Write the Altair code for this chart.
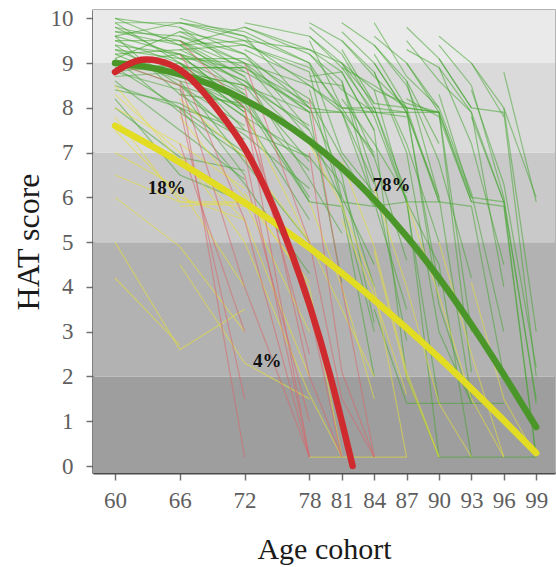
import altair as alt
import pandas as pd

# ---------------- data ----------------
# background bands on the HAT score scale
band_lo = [-0.156, 2, 5, 7, 9]
band_hi = [2, 5, 7, 9, 10.185]
band_color = ["#9e9e9e", "#b2b2b2", "#c9c9c9", "#dadada", "#eaeaea"]

# individual trajectories (age, HAT score)
green_traj = [
    [(60, 10.0), (66, 9.8), (72, 9.2)],
    [(60, 9.8), (66, 9.5), (72, 8.9)],
    [(60, 9.7), (66, 9.6), (72, 9.0)],
    [(60, 9.5), (66, 9.0), (72, 8.3)],
    [(60, 9.4), (66, 9.2), (72, 8.8)],
    [(60, 9.3), (66, 8.7), (72, 8.0)],
    [(60, 9.2), (66, 9.3), (72, 8.6)],
    [(60, 9.0), (66, 8.5), (72, 7.6)],
    [(60, 9.0), (66, 8.9), (72, 8.9)],
    [(60, 8.9), (66, 8.0), (72, 7.0)],
    [(60, 8.8), (66, 8.4), (72, 6.5)],
    [(60, 8.6), (66, 7.5), (72, 6.4)],
    [(60, 8.4), (66, 8.1), (72, 7.3)],
    [(60, 8.2), (66, 6.5), (72, 5.9)],
    [(60, 9.9), (66, 9.0), (72, 7.9)],
    [(60, 9.6), (66, 8.3), (72, 8.1)],
    [(60, 8.0), (66, 6.9), (72, 6.6)],
    [(60, 9.1), (66, 9.7), (72, 9.4)],
    [(60, 8.7), (66, 8.8), (72, 7.8)],
    [(60, 9.6), (66, 9.9), (72, 9.6)],
    [(60, 9.9), (66, 9.9), (72, 9.7)],
    [(60, 9.8), (66, 9.1), (72, 8.4)],
    [(60, 9.7), (66, 9.4), (72, 9.5)],
    [(60, 9.5), (66, 9.5), (72, 8.7)],
    [(60, 9.3), (66, 9.1), (72, 9.1)],
    [(60, 9.2), (66, 8.6), (72, 8.2)],
    [(60, 9.0), (66, 9.2), (72, 8.0)],
    [(60, 8.9), (66, 8.8), (72, 8.5)],
    [(60, 8.8), (66, 9.0), (72, 7.9)],
    [(60, 8.5), (66, 8.0), (72, 7.5)],
    [(60, 9.4), (66, 8.5), (72, 7.2)],
    [(60, 9.1), (66, 7.9), (72, 6.9)],
    [(60, 9.6), (66, 9.2), (72, 8.0)],
    [(60, 10.0), (66, 9.4), (72, 8.7)],
    [(66, 9.9), (72, 9.5), (78, 8.5)],
    [(66, 9.7), (72, 9.0), (78, 7.9)],
    [(66, 9.5), (72, 8.5), (78, 6.8)],
    [(66, 9.3), (72, 9.4), (78, 8.9)],
    [(66, 9.0), (72, 8.2), (78, 6.0)],
    [(66, 8.8), (72, 7.8), (78, 5.5)],
    [(66, 8.6), (72, 6.8), (78, 5.0)],
    [(66, 8.3), (72, 7.4), (78, 6.2)],
    [(66, 9.8), (72, 8.8), (78, 8.0)],
    [(66, 9.1), (72, 9.0), (78, 7.3)],
    [(66, 8.0), (72, 6.3), (78, 4.3)],
    [(66, 9.4), (72, 9.8), (78, 9.3)],
    [(66, 9.6), (72, 9.2), (78, 8.0)],
    [(66, 9.2), (72, 8.6), (78, 7.5)],
    [(66, 8.9), (72, 8.9), (78, 8.1)],
    [(66, 8.5), (72, 8.0), (78, 6.6)],
    [(66, 9.0), (72, 7.5), (78, 6.9)],
    [(66, 10.0), (72, 9.6), (78, 9.0)],
    [(66, 9.4), (72, 8.3), (78, 5.9)],
    [(66, 8.8), (72, 8.5), (78, 7.6)],
    [(72, 9.8), (78, 9.2), (81, 8.4), (84, 7.9)],
    [(72, 9.6), (78, 8.0), (81, 7.9), (84, 6.3)],
    [(72, 9.4), (78, 8.8), (81, 6.0), (84, 4.5)],
    [(72, 9.2), (78, 7.5), (81, 5.9), (84, 3.0)],
    [(72, 9.0), (78, 8.5), (81, 8.0), (84, 7.9)],
    [(72, 8.7), (78, 6.4), (81, 5.2)],
    [(72, 8.5), (78, 7.9), (81, 4.1)],
    [(72, 8.1), (78, 5.9), (81, 5.8), (84, 2.0)],
    [(72, 9.9), (78, 9.6), (81, 9.0), (84, 8.1)],
    [(72, 7.8), (78, 6.9), (81, 6.0)],
    [(72, 9.7), (78, 9.0), (81, 7.9), (84, 5.9)],
    [(72, 9.3), (78, 8.6), (81, 8.5), (84, 6.9)],
    [(72, 9.1), (78, 8.2), (81, 6.9), (84, 5.8)],
    [(72, 8.9), (78, 7.9), (81, 7.9), (84, 7.0)],
    [(72, 8.6), (78, 7.2), (81, 6.3), (84, 4.0)],
    [(72, 9.5), (78, 9.3), (81, 8.8), (84, 7.5)],
    [(78, 9.8), (81, 9.2), (84, 8.0), (87, 6.1)],
    [(78, 9.5), (81, 8.0), (84, 8.0), (87, 7.9), (90, 5.9)],
    [(78, 9.2), (81, 8.6), (84, 5.9), (87, 3.5)],
    [(78, 9.0), (81, 7.0), (84, 6.1)],
    [(78, 8.7), (81, 8.8), (84, 7.5), (87, 2.0)],
    [(78, 8.4), (81, 5.9), (84, 5.8), (87, 5.9), (90, 1.4)],
    [(78, 8.0), (81, 6.5), (84, 3.2)],
    [(78, 9.9), (81, 9.5), (84, 8.7), (87, 8.0), (90, 7.9)],
    [(78, 9.6), (81, 8.9), (84, 7.9), (87, 7.8)],
    [(78, 9.3), (81, 9.0), (84, 8.4), (87, 5.9)],
    [(78, 8.9), (81, 8.0), (84, 6.9), (87, 4.6)],
    [(78, 8.5), (81, 7.9), (84, 7.9), (87, 7.9), (90, 4.0)],
    [(81, 9.7), (84, 9.0), (87, 7.9), (90, 6.0)],
    [(81, 9.3), (84, 8.1), (87, 8.0), (90, 3.6), (93, 1.4)],
    [(81, 9.0), (84, 7.8), (87, 5.9), (90, 5.9)],
    [(81, 8.6), (84, 6.4), (87, 2.8)],
    [(81, 8.2), (84, 7.2), (87, 6.0), (90, 0.2)],
    [(81, 9.9), (84, 9.4), (87, 8.6), (90, 7.2)],
    [(81, 9.5), (84, 8.8), (87, 7.2), (90, 5.0)],
    [(81, 8.9), (84, 8.5), (87, 8.0), (90, 7.9), (93, 3.0)],
    [(84, 9.6), (87, 9.0), (90, 7.9), (93, 5.9)],
    [(84, 9.2), (87, 8.0), (90, 5.9), (93, 5.8), (96, 2.0)],
    [(84, 8.8), (87, 7.0), (90, 3.0), (93, 1.4)],
    [(84, 8.4), (87, 8.1), (90, 7.9), (93, 6.0)],
    [(84, 9.9), (87, 8.7), (90, 8.0)],
    [(84, 8.0), (87, 5.9), (90, 4.5), (93, 0.2)],
    [(84, 9.4), (87, 8.5), (90, 6.8), (93, 4.2)],
    [(84, 9.0), (87, 7.9), (90, 7.9), (93, 2.1)],
    [(87, 9.5), (90, 8.6), (93, 7.9), (96, 5.9)],
    [(87, 9.0), (90, 8.0), (93, 6.1), (96, 3.0)],
    [(87, 8.6), (90, 6.0), (93, 1.5)],
    [(87, 8.2), (90, 7.8), (93, 5.9), (96, 5.8), (99, 0.2)],
    [(87, 9.8), (90, 9.1), (93, 8.0)],
    [(87, 9.3), (90, 8.9), (93, 7.2), (96, 4.5)],
    [(90, 9.4), (93, 8.5), (96, 6.0), (99, 1.4)],
    [(90, 8.9), (93, 7.9), (96, 4.0)],
    [(90, 8.3), (93, 6.0), (96, 5.9), (99, 0.2)],
    [(90, 9.6), (93, 9.0), (96, 7.8)],
    [(90, 9.1), (93, 8.0), (96, 7.9), (99, 2.0)],
    [(93, 9.0), (96, 8.0), (99, 6.0)],
    [(93, 8.4), (96, 6.3), (99, 2.2)],
    [(93, 7.8), (96, 5.9), (99, 1.5)],
    [(96, 8.8), (99, 5.9)],
    [(96, 8.0), (99, 3.0)],
    [(84, 3.5), (87, 1.4), (90, 1.4), (93, 1.4), (96, 1.4)],
    [(87, 2.0), (90, 0.2), (93, 0.2), (96, 0.2), (99, 0.2)],
]

yellow_traj = [
    [(60, 8.5), (66, 6.8), (72, 5.9)],
    [(60, 7.5), (66, 6.0), (72, 5.5)],
    [(60, 7.0), (66, 6.2), (72, 4.0)],
    [(60, 6.5), (66, 5.9), (72, 5.8)],
    [(60, 5.0), (66, 2.6), (72, 3.5)],
    [(60, 4.2), (66, 2.7)],
    [(60, 8.0), (66, 7.2), (72, 6.2)],
    [(60, 8.3), (66, 7.0), (72, 5.0)],
    [(60, 7.8), (66, 5.9), (72, 5.9)],
    [(60, 6.0), (66, 4.9), (72, 3.0)],
    [(66, 7.8), (72, 6.0), (78, 4.1)],
    [(66, 6.9), (72, 5.5), (78, 2.0)],
    [(66, 4.5), (72, 2.3), (78, 1.5)],
    [(66, 5.8), (72, 5.9), (78, 3.0)],
    [(66, 8.2), (72, 6.9), (78, 5.0)],
    [(72, 7.9), (78, 5.0), (81, 3.5), (84, 2.0)],
    [(72, 6.1), (78, 4.0), (81, 0.2)],
    [(72, 5.0), (78, 1.6), (81, 0.2)],
    [(78, 7.2), (81, 5.8), (84, 4.0), (87, 0.2)],
    [(78, 5.9), (81, 4.0), (84, 1.5)],
    [(81, 6.8), (84, 4.9), (87, 2.1), (90, 0.2)],
    [(81, 5.5), (84, 3.8), (87, 1.6)],
    [(84, 6.2), (87, 4.0), (90, 1.4), (93, 0.2)],
    [(84, 4.8), (87, 2.0), (90, 0.2)],
    [(87, 5.9), (90, 3.8), (93, 1.5), (96, 0.2)],
    [(90, 5.0), (93, 2.5), (96, 0.2)],
    [(93, 4.1), (96, 1.5), (99, 0.2)],
    [(78, 0.2), (81, 0.2), (84, 0.2), (87, 0.2)],
]

red_traj = [
    [(60, 9.0), (66, 8.5), (72, 0.2)],
    [(66, 9.2), (72, 7.0), (78, 0.2)],
    [(66, 8.6), (72, 4.0), (78, 0.2)],
    [(66, 8.0), (72, 1.5)],
    [(72, 8.5), (78, 2.0), (81, 0.2)],
    [(72, 7.8), (78, 3.5), (81, 0.2)],
    [(72, 9.0), (78, 5.0), (81, 1.5), (84, 0.2)],
    [(78, 7.0), (81, 2.1), (84, 0.2)],
    [(66, 7.2), (72, 3.0)],
    [(72, 6.5), (78, 1.0)],
    [(66, 8.9), (72, 5.5), (78, 0.2)],
    [(72, 8.0), (78, 0.2)],
    [(78, 8.2), (81, 4.0), (84, 0.2)],
    [(66, 9.5), (72, 8.0), (78, 2.5)],
]

# fitted group trajectories
red_age = [60, 62, 64, 66, 68, 70, 72, 74, 76, 78, 80, 82]
red_fit = [8.8, 9.05, 9.05, 8.85, 8.4, 7.8, 7.1, 6.15, 4.98, 3.6, 1.95, 0.0]

yellow_age = [60, 63, 66, 69, 72, 75, 78, 81, 84, 87, 90, 93, 96, 99]
yellow_fit = [7.6, 7.2, 6.78, 6.34, 5.88, 5.39, 4.87, 4.31, 3.71, 3.08, 2.42, 1.73, 1.02, 0.29]

green_age = [60, 63, 66, 69, 72, 75, 78, 81, 84, 87, 90, 93, 96, 99]
green_fit = [9.0, 8.91, 8.75, 8.51, 8.18, 7.76, 7.26, 6.66, 5.95, 5.13, 4.2, 3.16, 2.04, 0.87]

label_text = ["18%", "78%", "4%"]
label_age = [64.8, 85.6, 74.1]
label_score = [6.2, 6.27, 2.35]

x_ticks = [60, 66, 72, 78, 81, 84, 87, 90, 93, 96, 99]
y_ticks = [0, 1, 2, 3, 4, 5, 6, 7, 8, 9, 10]

# ---------------- frames ----------------
rows = []
tid = 0
for grp, trajs, col in [("g", green_traj, "#45a532"), ("y", yellow_traj, "#e8e03a"), ("r", red_traj, "#d9666a")]:
    for tr in trajs:
        for i, (a, s) in enumerate(tr):
            rows.append({"id": tid, "grp": grp, "age": a, "score": s, "ord": i, "col": col})
        tid += 1
thin_df = pd.DataFrame(rows)

fit_rows = []
for name, ages, vals, col in [("yellow", yellow_age, yellow_fit, "#e2dc22"),
                              ("green", green_age, green_fit, "#4a9629"),
                              ("red", red_age, red_fit, "#cf2a2e")]:
    for i, (a, s) in enumerate(zip(ages, vals)):
        fit_rows.append({"curve": name, "age": a, "score": s, "ord": i, "col": col})
fit_df = pd.DataFrame(fit_rows)

band_df = pd.DataFrame({"lo": band_lo, "hi": band_hi, "col": band_color})
label_df = pd.DataFrame({"t": label_text, "age": label_age, "score": label_score})

W, H = 462, 463
xs = alt.Scale(domain=[57.96, 100.74], nice=False, zero=False)
ys = alt.Scale(domain=[-0.156, 10.185], nice=False, zero=False)

serif = "Liberation Serif"
xaxis = alt.Axis(values=x_ticks, title="Age cohort", grid=False,
                 labelFont=serif, labelFontSize=23, labelColor="#5e5e5e",
                 labelPadding=9, tickSize=7, tickColor="#707070", tickWidth=1.5,
                 domainColor="#4a4a4a", domainWidth=2,
                 titleFont=serif, titleFontSize=30, titleFontWeight="normal",
                 titleColor="#1a1a1a", titleY=85, titleBaseline="alphabetic")
yaxis = alt.Axis(values=y_ticks, title="HAT score", grid=False,
                 labelFont=serif, labelFontSize=23, labelColor="#5e5e5e",
                 labelPadding=13, tickSize=7, tickColor="#707070", tickWidth=1.5,
                 domainColor="#4a4a4a", domainWidth=2,
                 titleFont=serif, titleFontSize=32, titleFontWeight="normal",
                 titleColor="#1a1a1a", titleX=-55, titleBaseline="alphabetic")

bands = alt.Chart(band_df).mark_rect().encode(
    x=alt.value(0), x2=alt.value(W),
    y=alt.Y("lo:Q", scale=ys, axis=yaxis, title="HAT score"),
    y2="hi:Q",
    color=alt.Color("col:N", scale=None),
)

thin = alt.Chart(thin_df).mark_line(strokeWidth=1.2, opacity=0.55, clip=True).encode(
    x=alt.X("age:Q", scale=xs, axis=xaxis, title="Age cohort"),
    y=alt.Y("score:Q", scale=ys, axis=yaxis, title="HAT score"),
    detail="id:N",
    order="ord:Q",
    color=alt.Color("col:N", scale=None),
)

fits = alt.Chart(fit_df).mark_line(strokeWidth=6.5, interpolate="natural",
                                   strokeCap="round", clip=True).encode(
    x=alt.X("age:Q", scale=xs, axis=xaxis, title="Age cohort"),
    y=alt.Y("score:Q", scale=ys, axis=yaxis, title="HAT score"),
    detail="curve:N",
    order="ord:Q",
    color=alt.Color("col:N", scale=None),
)

labels = alt.Chart(label_df).mark_text(font=serif, fontSize=19, fontWeight="bold",
                                       color="#111111").encode(
    x=alt.X("age:Q", scale=xs, axis=xaxis, title="Age cohort"),
    y=alt.Y("score:Q", scale=ys, axis=yaxis, title="HAT score"),
    text="t:N",
)

chart = alt.layer(bands, thin, fits, labels).properties(
    width=W, height=H,
    autosize=alt.AutoSizeParams(type="none"),
    padding={"left": 93, "top": 10, "right": 1, "bottom": 94},
    background="white",
).configure_view(stroke="#9a9a9a", strokeWidth=1.5)

chart.save("out.html", embed_options={"renderer": "svg", "actions": False})
